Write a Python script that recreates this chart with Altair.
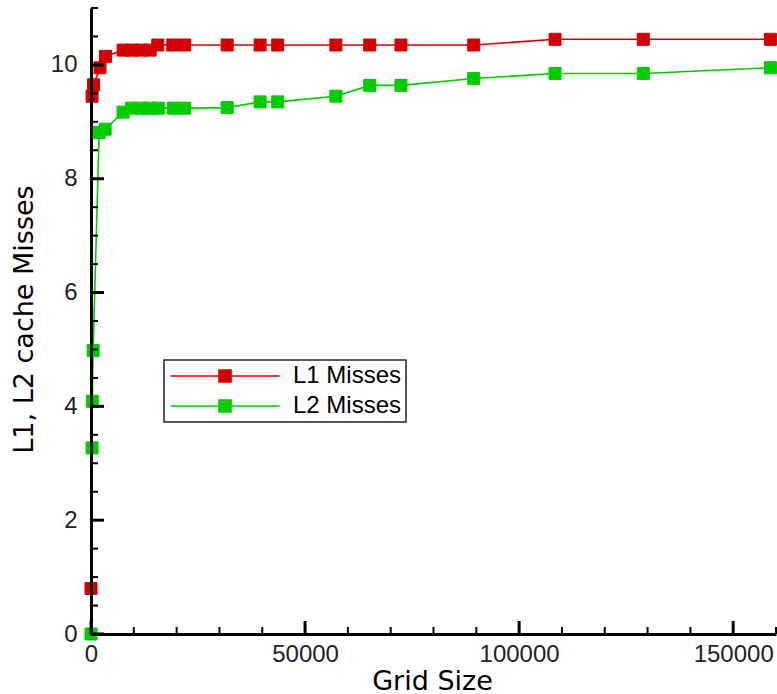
import altair as alt
import pandas as pd

# Grid sizes and cache-miss counts for the two cache levels
grid_l1 = [0, 250, 600, 2100, 3400, 7500, 9600, 11700, 13800, 15600, 19100, 21900,
           31800, 39500, 43600, 57200, 65100, 72400, 89400, 108400, 129000, 158700]
misses_l1 = [0.8, 9.45, 9.65, 9.95, 10.15, 10.26, 10.26, 10.26, 10.26, 10.35, 10.35, 10.35,
             10.35, 10.35, 10.35, 10.35, 10.35, 10.35, 10.35, 10.45, 10.45, 10.45]

grid_l2 = [0, 250, 300, 500, 1900, 3300, 7500, 9500, 11600, 13700, 15700, 19200, 21900,
           31800, 39500, 43600, 57200, 65100, 72400, 89400, 108400, 129000, 158700]
misses_l2 = [0.0, 3.27, 4.09, 4.98, 8.81, 8.87, 9.17, 9.24, 9.24, 9.24, 9.24, 9.24, 9.24,
             9.25, 9.35, 9.35, 9.45, 9.64, 9.64, 9.76, 9.85, 9.85, 9.95]

series_names = ["L1 Misses", "L2 Misses"]
series_colors = ["#d40000", "#00cc00"]

# Axis tick positions
x_major = [0, 50000, 100000, 150000]
x_minor = [10000, 20000, 30000, 40000, 60000, 70000, 80000, 90000,
           110000, 120000, 130000, 140000, 160000]
y_major = [0, 2, 4, 6, 8, 10]
y_minor = [0.5, 1, 1.5, 2.5, 3, 3.5, 4.5, 5, 5.5, 6.5, 7, 7.5, 8.5, 9, 9.5, 10.5, 11]

W, H = 685, 626
MAJOR_LEN, MINOR_LEN = 13, 7

df = pd.concat([
    pd.DataFrame({"grid": grid_l1, "misses": misses_l1, "series": series_names[0]}),
    pd.DataFrame({"grid": grid_l2, "misses": misses_l2, "series": series_names[1]}),
], ignore_index=True)

xs = alt.Scale(domain=[0, 160000], nice=False, zero=False)
ys = alt.Scale(domain=[0, 11], nice=False, zero=False)
cs = alt.Scale(domain=series_names, range=series_colors)

x_axis = alt.Axis(
    values=x_major, format="d", ticks=False, grid=False, labelFlush=False,
    domainColor="black", domainWidth=3, labelFont="Liberation Sans", labelFontSize=24,
    labelColor="#222", labelPadding=8, title="Grid Size", titleFont="DejaVu Sans",
    titleFontSize=27, titleFontWeight="normal", titleColor="black",
    titleX=341, titleY=55, titleBaseline="alphabetic", titleAlign="center", zindex=2,
)
y_axis = alt.Axis(
    values=y_major, format="d", ticks=False, grid=False, labelFlush=False,
    domainColor="black", domainWidth=3, labelFont="Liberation Sans", labelFontSize=24,
    labelColor="#222", labelPadding=14, title="L1, L2 cache Misses", titleFont="DejaVu Sans",
    titleFontSize=27, titleFontWeight="normal", titleColor="black",
    titleX=-67, titleY=311, titleAngle=-90, titleAlign="center", titleBaseline="middle", zindex=2,
)

# Legend symbol: a line segment with a square in its middle
LEGEND_SYMBOL = "M-9.1,0H9.1M-1,-1H1V1H-1Z"
legend = alt.Legend(
    title=None, orient="none", legendX=73, legendY=352,
    symbolType=LEGEND_SYMBOL, symbolSize=144, symbolStrokeWidth=1.6,
    symbolOffset=45, labelOffset=56, rowPadding=6, padding=4,
    labelFont="Liberation Sans", labelFontSize=24, labelColor="black",
    strokeColor="#222", fillColor="white",
)

lines = alt.Chart(df).mark_line(strokeWidth=1.6).encode(
    x=alt.X("grid:Q", scale=xs, axis=x_axis),
    y=alt.Y("misses:Q", scale=ys, axis=y_axis),
    stroke=alt.Stroke("series:N", scale=cs, legend=legend),
    order="grid:Q",
)

points = alt.Chart(df).mark_point(
    shape="square", filled=True, size=144, strokeWidth=1, opacity=1
).encode(
    x=alt.X("grid:Q", scale=xs),
    y=alt.Y("misses:Q", scale=ys),
    fill=alt.Fill("series:N", scale=cs, legend=legend),
    stroke=alt.Stroke("series:N", scale=cs, legend=legend),
)

# Tick marks pointing into the plot from both axes
ytick_major = alt.Chart(pd.DataFrame({"misses": y_major})).mark_tick(
    color="black", opacity=1, thickness=3, size=MAJOR_LEN, orient="horizontal"
).encode(y=alt.Y("misses:Q", scale=ys), x=alt.value(MAJOR_LEN / 2))
ytick_minor = alt.Chart(pd.DataFrame({"misses": y_minor})).mark_tick(
    color="black", opacity=1, thickness=2, size=MINOR_LEN, orient="horizontal"
).encode(y=alt.Y("misses:Q", scale=ys), x=alt.value(MINOR_LEN / 2))
xtick_major = alt.Chart(pd.DataFrame({"grid": x_major})).mark_tick(
    color="black", opacity=1, thickness=3, size=MAJOR_LEN, orient="vertical"
).encode(x=alt.X("grid:Q", scale=xs), y=alt.value(H - MAJOR_LEN / 2))
xtick_minor = alt.Chart(pd.DataFrame({"grid": x_minor})).mark_tick(
    color="black", opacity=1, thickness=2, size=MINOR_LEN, orient="vertical"
).encode(x=alt.X("grid:Q", scale=xs), y=alt.value(H - MINOR_LEN / 2))

chart = alt.layer(
    lines, points, ytick_major, ytick_minor, xtick_major, xtick_minor
).properties(
    width=W, height=H,
    autosize=alt.AutoSizeParams(type="none"),
    padding={"left": 91, "top": 8, "right": 1, "bottom": 60},
    background="white",
).configure_view(strokeWidth=0).configure_legend(strokeWidth=1.5)

chart.save("out.html", embed_options={"renderer": "svg", "actions": False})
